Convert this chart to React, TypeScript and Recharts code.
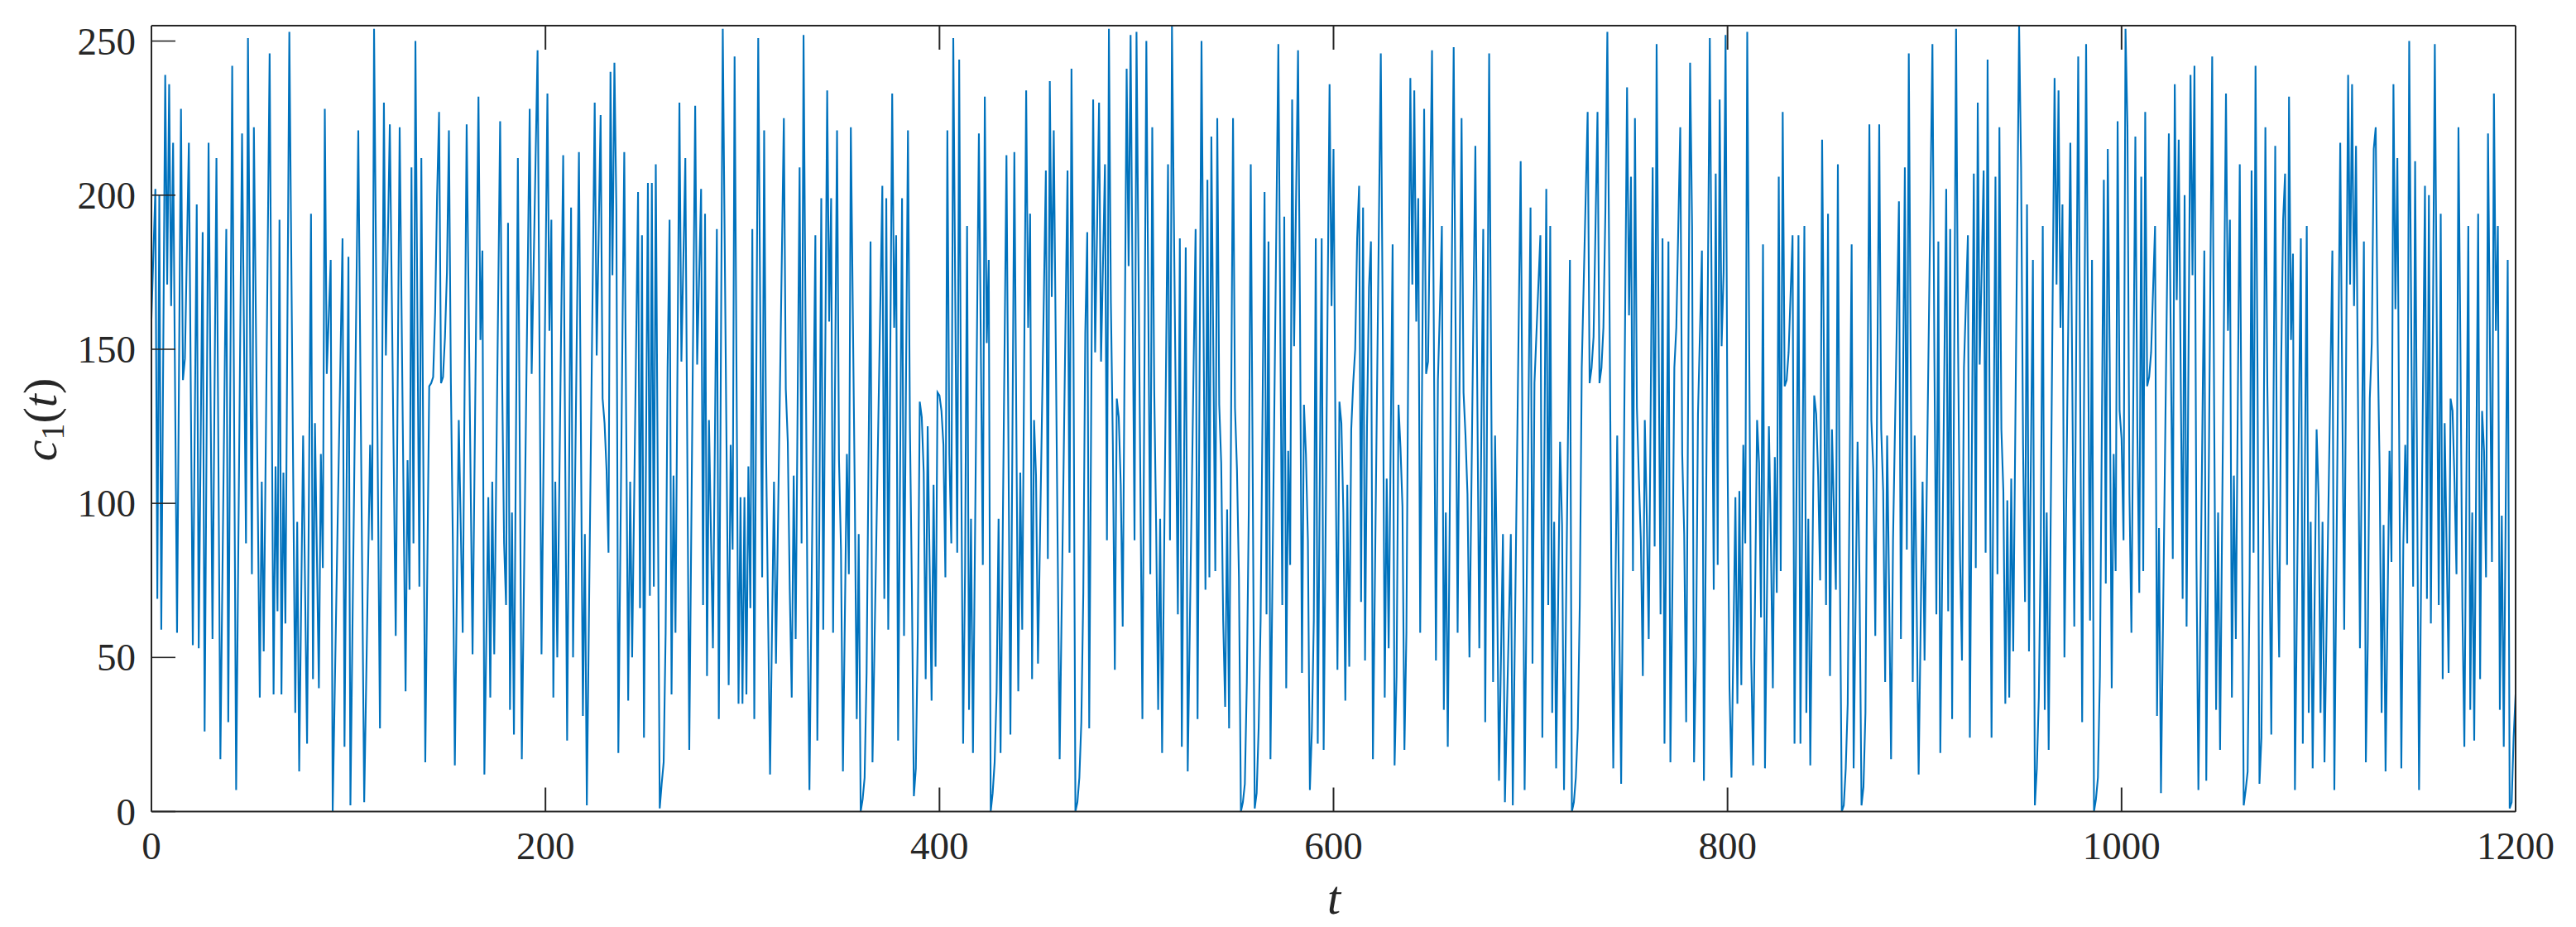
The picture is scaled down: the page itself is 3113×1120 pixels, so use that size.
import { Line, LineChart, XAxis, YAxis } from "recharts";

// [t, c1], turning points and the slow shoulders
const segA = [[0,160],[2,202],[3,69],[4,200],[5,59],[7,239],[8,171],[9,236],[10,164],[11,217],[13,58],[15,228],[16,140],[17,147],[19,217],[21,54],[23,197],[24,53],[26,188],[27,26],[29,217],[31,56],[33,212],[35,17],[38,189],[39,29],[41,242],[43,7],[46,220],[48,87],[49,251],[51,77],[52,222],[55,37],[56,107],[57,52],[60,246],[62,38],[63,112],[64,65],[65,192],[66,38],[67,110],[68,61],[70,253],[73,32],[74,94],[75,13],[77,122],[79,22],[81,194],[82,43],[83,126],[85,40],[86,116],[87,79],[88,228],[89,142],[91,179],[92,0],[97,186],[98,21],[100,180],[101,2],[105,221],[108,3],[111,119],[112,88],[113,254],[116,27],[118,230],[119,148],[121,223],[124,57],[126,222],[129,39],[130,114],[131,72],[132,209],[133,87]];
const segB = [[134,250],[136,73],[137,212],[139,16],[141,138],[142,139],[143,141],[144,162],[145,200],[146,227],[147,139],[148,141],[149,154],[150,175],[151,221],[152,139],[153,87],[154,15],[156,127],[158,58],[160,223],[163,51],[166,232],[167,153],[168,182],[169,12],[171,102],[172,37],[173,107],[174,51],[177,224],[178,141],[179,87],[180,67],[181,191],[182,33],[183,97],[184,25],[186,212],[188,17],[192,228],[193,142],[196,247],[198,51],[201,233],[202,156],[203,192],[204,37],[205,107],[206,50],[209,213],[211,23],[213,196],[214,50],[217,214],[219,31],[220,90],[221,2],[225,230],[226,148],[228,226],[229,134],[230,126],[231,111],[232,84],[233,240],[234,174],[235,243]];
const segC = [[236,195],[237,19],[240,214],[242,36],[243,107],[244,50],[247,201],[248,66],[249,187],[250,24],[252,204],[253,70],[254,204],[255,73],[256,210],[257,108],[258,1],[259,9],[260,16],[261,58],[262,144],[263,192],[264,38],[265,109],[266,58],[268,230],[269,146],[271,212],[273,20],[276,229],[277,145],[279,202],[280,67],[281,194],[282,44],[283,127],[285,53],[287,189],[288,30],[290,254],[293,41],[294,119],[295,85],[296,245],[298,35],[299,102],[300,35],[301,102],[302,38],[303,112],[304,66],[305,189],[306,30],[308,251],[310,76],[311,221],[312,116],[314,12],[316,107],[317,48],[321,225],[322,137],[323,120],[324,72],[325,37],[326,109],[327,56],[329,209],[330,87],[331,252],[333,66],[334,7],[337,187],[338,23],[339,92]];
const segD = [[340,199],[341,59],[343,234],[344,159],[345,199],[346,58],[348,221],[349,114],[350,85],[351,13],[353,116],[354,77],[355,222],[357,104],[358,30],[359,90],[360,0],[361,4],[362,11],[363,45],[365,185],[366,16],[371,203],[372,69],[373,199],[374,59],[376,233],[377,157],[378,187],[379,23],[381,199],[382,57],[384,221],[385,125],[386,72],[387,5],[388,14],[389,58],[390,133],[391,128],[392,110],[393,43],[394,125],[396,36],[397,106],[398,47],[399,136],[400,135],[401,130],[402,119],[403,76],[404,221],[405,116],[406,87],[407,251],[409,84],[410,244],[411,117],[412,22],[413,79],[414,190],[415,33],[416,95],[417,19],[420,220],[422,80],[423,232],[424,152],[425,179],[426,0],[427,6],[428,16],[429,39],[430,95],[431,19],[434,213],[436,25],[438,214],[440,39],[441,110]];
const segE = [[442,59],[444,234],[445,157],[446,194],[447,43],[448,127],[449,109],[450,48],[454,208],[455,82],[456,237],[457,167],[458,221],[461,17],[465,208],[466,84],[467,241],[468,155],[469,0],[470,3],[471,11],[472,29],[473,71],[474,155],[475,188],[476,27],[478,231],[479,149],[481,230],[482,146],[484,210],[485,88],[486,254],[487,165],[488,119],[489,46],[490,134],[491,128],[492,106],[493,60],[495,241],[496,177],[497,252],[499,88],[500,253],[503,30],[505,250],[507,77],[508,222],[509,137],[510,91],[511,33],[512,95],[513,19],[516,210],[517,88],[518,255],[521,64],[522,186],[523,21],[525,183],[526,13],[530,189],[531,30],[533,250],[535,72],[536,205],[537,76],[538,219],[540,78],[541,225],[542,132],[543,113],[544,62]];
const segF = [[545,34],[546,98],[547,27],[549,225],[550,131],[551,111],[552,76],[553,0],[554,3],[555,9],[556,42],[557,98],[558,210],[559,108],[560,1],[561,6],[562,27],[563,62],[565,201],[566,64],[567,185],[568,17],[572,249],[574,67],[575,193],[576,40],[577,117],[578,80],[579,231],[580,151],[582,247],[583,161],[584,45],[585,132],[586,116],[587,88],[588,7],[589,26],[590,62],[591,186],[592,22],[594,186],[595,20],[598,236],[599,164],[600,215],[601,120],[602,46],[603,133],[604,126],[605,97],[606,36],[607,106],[608,47],[609,124],[610,139],[611,150],[612,186],[613,203],[614,68],[615,196],[616,49],[617,125],[618,170],[619,185],[620,17],[624,246],[625,157],[626,37],[627,108],[628,53],[630,184],[631,15],[632,44],[633,132],[634,118],[635,99],[636,20],[637,58],[638,154],[639,238],[640,171],[641,234],[642,159],[643,199],[644,58],[646,228],[647,142]];
const segG = [[648,146],[650,247],[652,49],[653,140],[654,163],[655,190],[656,33],[657,97],[658,21],[661,248],[663,58],[665,225],[666,136],[667,122],[668,103],[669,50],[672,216],[674,53],[676,189],[677,29],[679,246],[681,42],[682,122],[683,76],[684,10],[686,90],[687,3],[690,90],[691,2],[695,211],[696,115],[697,7],[700,196],[701,48],[702,139],[705,187],[706,24],[708,202],[709,67],[710,190],[711,32],[712,94],[713,14],[715,120],[716,93],[717,7],[720,179],[721,0],[722,3],[723,11],[724,27],[725,67],[726,144],[729,227],[730,139],[731,144],[732,154],[734,227],[735,139],[736,144],[737,157],[738,195],[739,253],[740,173],[741,80],[742,14],[744,122],[746,9],[749,235],[750,161]];
const segH = [[751,206],[752,78],[753,225],[754,131],[755,108],[756,88],[757,44],[758,127],[759,96],[760,56],[762,209],[763,86],[764,249],[766,64],[767,186],[768,22],[770,185],[771,16],[772,72],[773,144],[774,157],[776,222],[777,116],[778,90],[779,29],[781,243],[782,190],[783,16],[784,50],[785,129],[787,182],[788,10],[791,251],[793,72],[794,207],[795,80],[796,231],[797,151],[798,175],[799,252],[800,116],[801,40],[802,11],[804,102],[805,35],[806,104],[807,41],[808,119],[809,87],[810,253],[812,50],[813,15],[815,127],[816,113],[817,63],[818,184],[819,14],[821,125],[822,88],[823,40],[824,115],[825,71],[826,206],[827,78],[828,227],[829,138],[830,140],[831,149],[833,187],[834,22],[836,187],[837,22],[839,190],[840,32],[841,95],[842,15],[844,135],[845,129],[846,109],[847,75],[848,218],[850,67],[851,194],[852,44]];
const segI = [[853,124],[855,72],[856,210],[857,81],[858,0],[859,2],[860,14],[861,35],[863,184],[864,14],[866,120],[867,74],[868,2],[869,8],[870,32],[872,223],[873,127],[874,111],[875,57],[877,223],[878,124],[879,104],[880,42],[881,122],[882,72],[883,17],[884,88],[887,198],[888,56],[890,209],[891,85],[892,246],[894,42],[895,122],[897,12],[899,107],[900,49],[904,249],[905,147],[906,64],[907,185],[908,19],[911,202],[912,65],[913,189],[914,30],[916,254],[917,152],[918,83],[919,49],[920,144],[922,187],[923,24],[925,207],[926,79],[927,230],[928,145],[930,208],[931,84],[932,244],[934,24],[936,206],[937,77],[938,222],[939,124],[940,104],[941,35],[942,101],[943,37],[944,108],[945,52],[948,255],[949,209],[950,119],[951,68],[952,197],[953,52],[955,179]];
const segJ = [[956,2],[957,14],[958,37],[959,88],[960,190],[961,33],[962,97],[963,20],[966,238],[967,171],[968,234],[969,157],[970,197],[971,50],[974,217],[976,60],[978,245],[980,29],[982,249],[984,62],[985,179],[986,0],[987,4],[988,11],[989,44],[991,205],[992,74],[993,215],[994,146],[995,40],[996,116],[997,78],[998,224],[999,130],[1000,121],[1001,88],[1002,254],[1003,222],[1004,103],[1005,58],[1007,219],[1008,124],[1009,71],[1010,206],[1011,78],[1012,227],[1013,138],[1014,141],[1015,149],[1017,190],[1018,31],[1019,92],[1020,6],[1024,220],[1026,82],[1027,236],[1028,166],[1029,218],[1031,69],[1032,200],[1033,60],[1035,239],[1036,174],[1037,242],[1038,83],[1039,7],[1042,182],[1043,10],[1046,245],[1047,130],[1048,33],[1049,97],[1050,20],[1053,233],[1054,156],[1055,192],[1056,37],[1057,109]];
const segK = [[1058,56],[1060,210],[1062,2],[1063,7],[1064,13],[1065,75],[1066,208],[1067,84],[1068,242],[1069,143],[1070,9],[1071,24],[1072,101],[1073,222],[1074,138],[1075,90],[1076,25],[1078,216],[1079,88],[1080,50],[1081,144],[1082,192],[1083,207],[1084,80],[1085,232],[1086,153],[1087,181],[1088,7],[1091,186],[1092,22],[1094,190],[1095,32],[1096,94],[1097,14],[1099,124],[1100,102],[1101,32],[1102,94],[1103,16],[1107,182],[1108,7],[1111,217],[1113,59],[1115,239],[1116,171],[1117,236],[1118,164],[1119,216],[1121,53],[1123,185],[1124,16],[1125,56],[1126,134],[1127,152],[1128,215],[1129,222],[1130,152],[1131,111],[1132,32],[1133,93],[1134,13],[1136,117],[1137,81],[1138,236],[1139,163],[1140,212],[1142,14],[1143,86],[1144,119],[1145,87],[1146,250],[1148,73],[1149,211],[1151,7],[1154,203],[1155,69],[1156,200],[1157,61],[1159,249],[1161,67],[1162,194],[1163,43],[1164,126],[1166,45],[1167,134],[1168,130],[1169,107],[1170,77],[1171,222],[1172,150],[1173,66],[1174,21],[1176,190],[1177,33],[1178,97],[1179,23],[1181,194],[1182,43],[1183,130],[1184,117],[1185,76],[1186,220],[1188,81],[1189,233],[1190,156],[1191,190],[1192,33],[1193,96],[1194,21],[1196,179],[1197,1],[1198,3],[1199,24],[1200,38]];

const xTicks = [0, 200, 400, 600, 800, 1000, 1200];
const yTicks = [0, 50, 100, 150, 200, 250];

const table = [...segA, ...segB, ...segC, ...segD, ...segE, ...segF, ...segG, ...segH, ...segI, ...segJ, ...segK].map(
  ([t, c1]) => ({ t, c1 }),
);

const ink = "#262626";
const serif = "'Liberation Serif', serif";
const tickLen = 29;

function BottomTick({ x, y, payload }: any) {
  return (
    <g>
      <line x1={x} x2={x} y1={y} y2={y - tickLen} stroke={ink} strokeWidth={2} />
      <text x={x} y={y + 57} textAnchor="middle" fill={ink} fontSize={47} fontFamily={serif}>
        {payload.value}
      </text>
    </g>
  );
}

function TopTick({ x, y }: any) {
  return <line x1={x} x2={x} y1={y} y2={y + tickLen} stroke={ink} strokeWidth={2} />;
}

function LeftTick({ x, y, payload }: any) {
  return (
    <g>
      <line x1={x + 19} x2={x + 19 + tickLen} y1={y} y2={y} stroke={ink} strokeWidth={1.6} />
      <text x={x} y={y + 16} textAnchor="end" fill={ink} fontSize={47} fontFamily={serif}>
        {payload.value}
      </text>
    </g>
  );
}

function RightTick({ x, y }: any) {
  return <line x1={x} x2={x - tickLen} y1={y} y2={y} stroke={ink} strokeWidth={1.6} />;
}

function YTitle() {
  return (
    <text transform="rotate(-90 68 507)" x={68} y={507} textAnchor="middle" fill={ink} fontSize={58} fontFamily={serif}>
      <tspan fontStyle="italic">c</tspan>
      <tspan fontSize={40} dy={9}>1</tspan>
      <tspan dy={-9}>(</tspan>
      <tspan fontStyle="italic">t</tspan>
      <tspan>)</tspan>
    </text>
  );
}

function XTitle() {
  return (
    <text x={1612} y={1104} textAnchor="middle" fill={ink} fontSize={58} fontStyle="italic" fontFamily={serif}>
      t
    </text>
  );
}

export default function App() {
  return (
    <div style={{ position: "absolute", left: 0, top: 0, width: 3113, height: 1120, background: "#fff" }}>
      <LineChart width={3113} height={1120} data={table} margin={{ top: 0, right: 0, bottom: 0, left: 0 }}>
        <XAxis
          dataKey="t"
          type="number"
          domain={[0, 1200]}
          ticks={xTicks}
          interval={0}
          height={139.5}
          tickSize={0}
          tickMargin={0}
          tickLine={false}
          tick={BottomTick}
          stroke={ink}
          strokeWidth={2}
          label={<XTitle />}
        />
        <XAxis
          xAxisId="top"
          orientation="top"
          dataKey="t"
          type="number"
          domain={[0, 1200]}
          ticks={xTicks}
          interval={0}
          height={31}
          tickSize={0}
          tickMargin={0}
          tickLine={false}
          tick={TopTick}
          stroke={ink}
          strokeWidth={2}
        />
        <YAxis
          type="number"
          domain={[0, 255]}
          ticks={yTicks}
          interval={0}
          width={183}
          tickSize={0}
          tickMargin={19}
          tickLine={false}
          tick={LeftTick}
          stroke={ink}
          strokeWidth={2}
          label={<YTitle />}
        />
        <YAxis
          yAxisId="right"
          orientation="right"
          type="number"
          domain={[0, 255]}
          ticks={yTicks}
          interval={0}
          width={73}
          tickSize={0}
          tickMargin={0}
          tickLine={false}
          tick={RightTick}
          stroke={ink}
          strokeWidth={2}
        />
        <Line
          type="linear"
          dataKey="c1"
          stroke="#0072BD"
          strokeWidth={2.1}
          dot={false}
          activeDot={false}
          isAnimationActive={false}
        />
      </LineChart>
    </div>
  );
}
